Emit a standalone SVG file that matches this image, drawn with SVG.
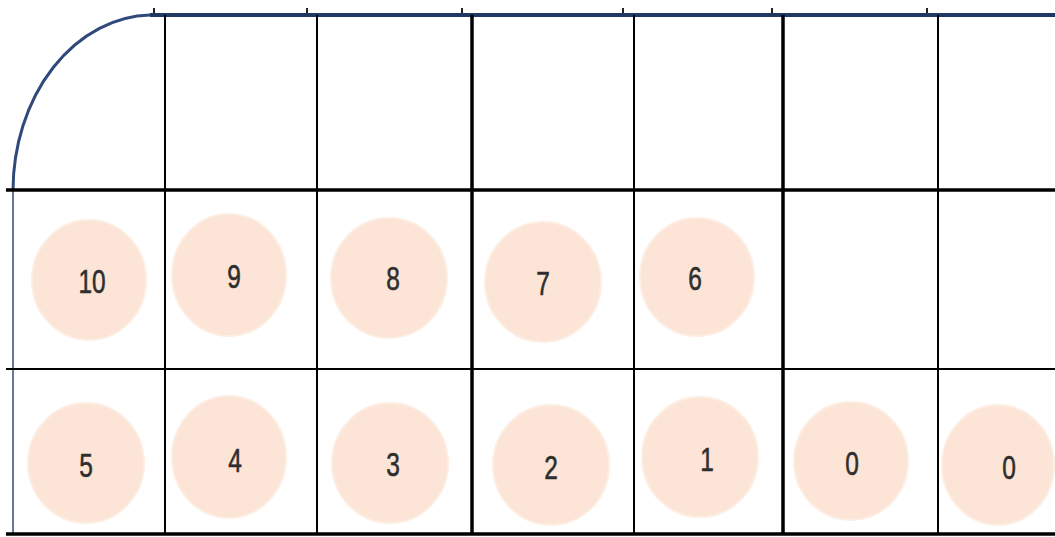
<svg xmlns="http://www.w3.org/2000/svg" width="1055" height="537" viewBox="0 0 1055 537">
<style>
.thick{stroke:#000;stroke-width:3.5;fill:none}
.thin{stroke:#000;stroke-width:2;fill:none}
.tick{stroke:#222;stroke-width:2}
.ball{fill:#fce4d6;stroke:#fdeee4;stroke-width:2}
.num{font-family:"Liberation Sans",Arial,sans-serif;font-size:34px;fill:#2e2e2e;text-anchor:middle;stroke:#2e2e2e;stroke-width:0.6}
</style>
<rect width="1055" height="537" fill="#fff"/>
<g id="grid">
<line class="tick" x1="154" y1="8" x2="154" y2="15"/>
<line class="tick" x1="307" y1="8" x2="307" y2="15"/>
<line class="tick" x1="462" y1="8" x2="462" y2="15" stroke-width="3"/>
<line class="tick" x1="623" y1="8" x2="623" y2="15"/>
<line class="tick" x1="772" y1="8" x2="772" y2="15" stroke-width="3"/>
<line class="tick" x1="927" y1="8" x2="927" y2="15"/>
<path d="M13,190 A140,176 0 0 1 150,15" fill="none" stroke="#2f4a7a" stroke-width="3"/>
<line x1="150" y1="15" x2="1055" y2="15" stroke="#1f3864" stroke-width="4"/>
<line x1="13" y1="190" x2="13" y2="534" stroke="#2f4a7a" stroke-width="1.5"/>
<line class="thick" x1="6" y1="190" x2="1055" y2="190"/>
<line class="thin" x1="6" y1="369" x2="1055" y2="369" stroke-width="2.5"/>
<line class="thick" x1="6" y1="534" x2="1055" y2="534"/>
<line class="thin" x1="165" y1="15" x2="165" y2="534"/>
<line class="thin" x1="317" y1="15" x2="317" y2="534"/>
<line class="thick" x1="472" y1="15" x2="472" y2="534" stroke-width="3"/>
<line class="thin" x1="634" y1="15" x2="634" y2="534"/>
<line class="thick" x1="783" y1="15" x2="783" y2="534" stroke-width="3"/>
<line class="thin" x1="938" y1="15" x2="938" y2="534"/>
</g>
<g id="n10"><ellipse class="ball" cx="89" cy="280" rx="57" ry="60"/><text class="num" transform="translate(92,293) scale(0.72,1)">10</text></g>
<g id="n9"><ellipse class="ball" cx="229" cy="275" rx="57" ry="61"/><text class="num" transform="translate(234,288) scale(0.72,1)">9</text></g>
<g id="n8"><ellipse class="ball" cx="389" cy="278" rx="58" ry="60"/><text class="num" transform="translate(393,290) scale(0.72,1)">8</text></g>
<g id="n7"><ellipse class="ball" cx="543" cy="282" rx="58" ry="60"/><text class="num" transform="translate(543,295) scale(0.72,1)">7</text></g>
<g id="n6"><ellipse class="ball" cx="697" cy="277" rx="57" ry="59"/><text class="num" transform="translate(695,290) scale(0.72,1)">6</text></g>
<g id="n5"><ellipse class="ball" cx="86" cy="463" rx="58" ry="60"/><text class="num" transform="translate(86,477) scale(0.72,1)">5</text></g>
<g id="n4"><ellipse class="ball" cx="229" cy="457" rx="57" ry="61"/><text class="num" transform="translate(235,472) scale(0.72,1)">4</text></g>
<g id="n3"><ellipse class="ball" cx="390" cy="463" rx="58" ry="60"/><text class="num" transform="translate(393,476) scale(0.72,1)">3</text></g>
<g id="n2"><ellipse class="ball" cx="551" cy="465" rx="58" ry="60"/><text class="num" transform="translate(551,479) scale(0.72,1)">2</text></g>
<g id="n1"><ellipse class="ball" cx="700" cy="457" rx="58" ry="60"/><text class="num" transform="translate(707,471) scale(0.72,1)">1</text></g>
<g id="n0a"><ellipse class="ball" cx="851" cy="461" rx="57" ry="59"/><text class="num" transform="translate(852,475) scale(0.72,1)">0</text></g>
<g id="n0b"><ellipse class="ball" cx="998" cy="465" rx="56" ry="60"/><text class="num" transform="translate(1009,479) scale(0.72,1)">0</text></g>
</svg>
